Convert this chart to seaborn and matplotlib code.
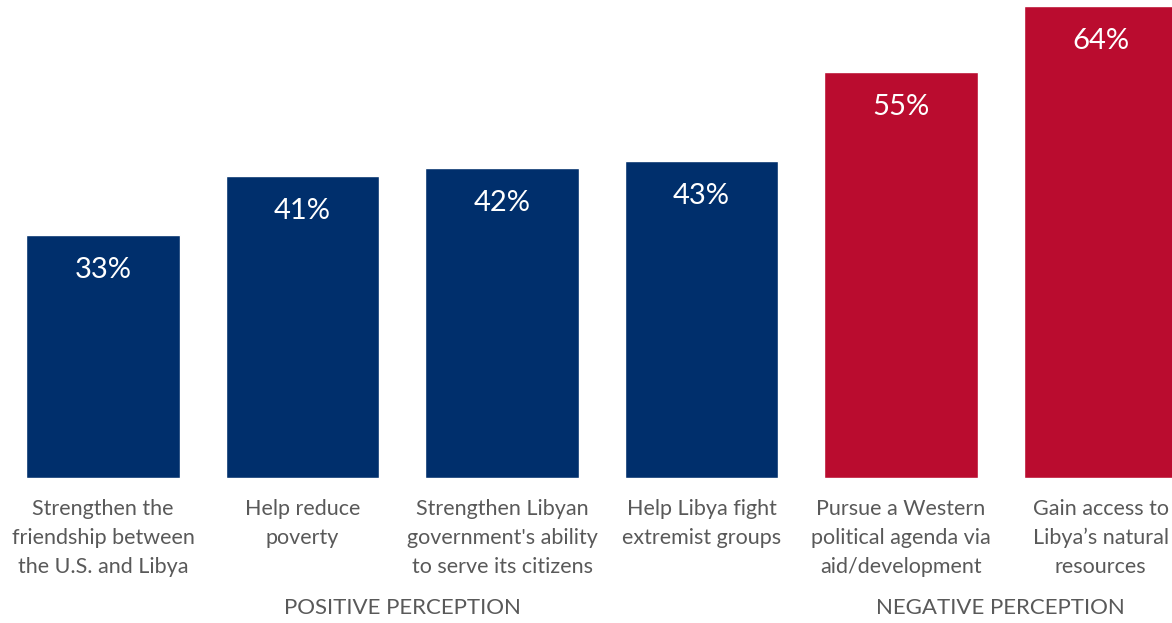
import matplotlib
matplotlib.use("Agg")
import matplotlib.pyplot as plt
import seaborn as sns
import pandas as pd

categories = [
    "Strengthen the\nfriendship between\nthe U.S. and Libya",
    "Help reduce\npoverty",
    "Strengthen Libyan\ngovernment's ability\nto serve its citizens",
    "Help Libya fight\nextremist groups",
    "Pursue a Western\npolitical agenda via\naid/development",
    "Gain access to\nLibya\u2019s natural\nresources",
]
values = [33, 41, 42, 43, 55, 64]
perception = ["Positive", "Positive", "Positive", "Positive", "Negative", "Negative"]
group_labels = ["POSITIVE PERCEPTION", "NEGATIVE PERCEPTION"]

BLUE = "#002F6C"
RED = "#BA0C2F"
GREY = "#595959"

sns.set_theme(style="white")
plt.rcParams["font.family"] = ["Lato", "DejaVu Sans"]

df = pd.DataFrame({"category": categories, "value": values, "perception": perception})

fig = plt.figure(figsize=(11.72, 6.23), dpi=100)
ax = fig.add_axes([0, 0.2327, 1, 0.7673])

sns.barplot(data=df, x="category", y="value", hue="perception",
            palette={"Positive": BLUE, "Negative": RED},
            dodge=False, width=0.77, legend=False, ax=ax, saturation=1)

ax.set_xlim(-0.516, 5.358)
ax.set_ylim(0, 64.8)
for s in ax.spines.values():
    s.set_visible(False)
ax.set_yticks([])
ax.set_xlabel("")
ax.set_ylabel("")
ax.tick_params(axis="x", length=0, pad=15, labelsize=15.5, labelcolor=GREY)
for lab in ax.get_xticklabels():
    lab.set_linespacing(1.56)
    lab.set_ha("center")

for i, v in enumerate(values):
    ax.text(i, v - 3.0, f"{v}%", ha="center", va="top", color="white", fontsize=21)

def xfig(x):
    return (x + 0.516) / (5.358 + 0.516)

fig.text(xfig(1.5), 0.024, group_labels[0], ha="center", va="center", fontsize=16, color=GREY)
fig.text(xfig(4.5), 0.024, group_labels[1], ha="center", va="center", fontsize=16, color=GREY)

fig.savefig("out.png", dpi=100)
